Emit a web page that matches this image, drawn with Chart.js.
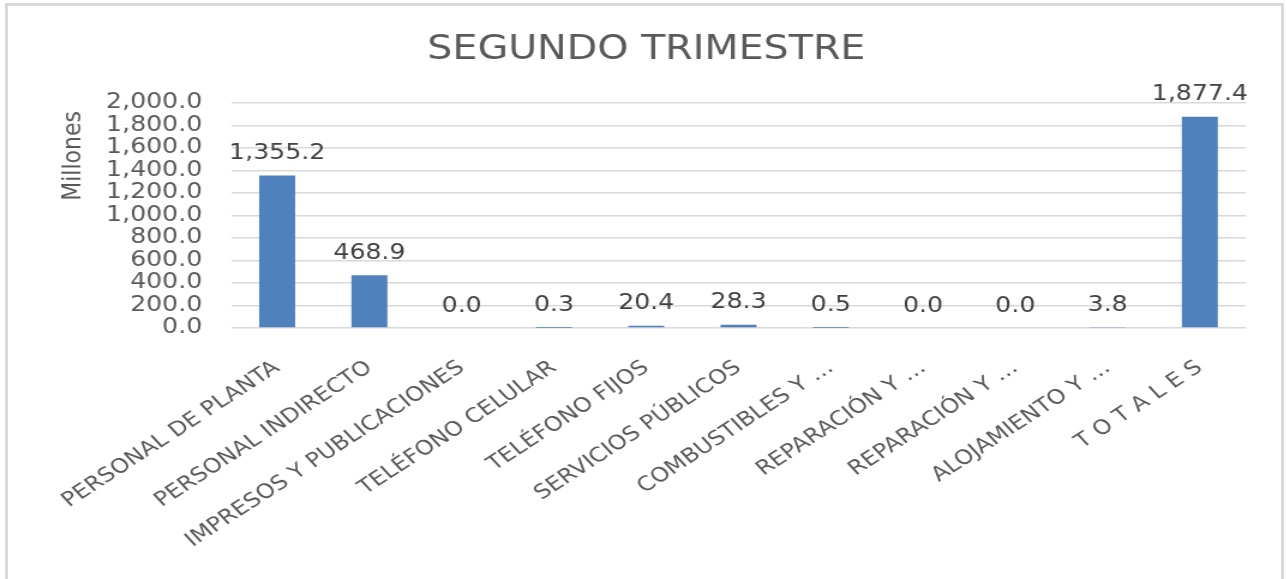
<!DOCTYPE html>
<html>
<head>
<meta charset="utf-8">
<script src="https://cdn.jsdelivr.net/npm/chart.js@4.4.1/dist/chart.umd.min.js"></script>
<style>
  html,body{margin:0;padding:0;background:#fff;overflow:hidden;}
  #frame{position:absolute;left:5px;top:3px;width:1279px;height:640px;border:3px solid #d9d9d9;box-sizing:border-box;pointer-events:none;}
  #wrap{position:absolute;left:0;top:0;width:1073px;height:579px;transform:scaleX(1.2);transform-origin:0 0;}
</style>
</head>
<body>
<div id="wrap"><canvas id="chart"></canvas></div>
<div id="frame"></div>
<script>
const TITLE = "SEGUNDO TRIMESTRE";
const Y_TITLE = "Millones";

const categories = [
  "PERSONAL DE PLANTA",
  "PERSONAL INDIRECTO",
  "IMPRESOS Y PUBLICACIONES",
  "TELÉFONO CELULAR",
  "TELÉFONO FIJOS",
  "SERVICIOS PÚBLICOS",
  "COMBUSTIBLES Y …",
  "REPARACIÓN Y …",
  "REPARACIÓN Y …",
  "ALOJAMIENTO Y …",
  "T O T A L E S"
];

const values = [1355.2, 468.9, 0.0, 0.3, 20.4, 28.3, 0.5, 0.0, 0.0, 3.8, 1877.4];

const Y_MIN = 0;
const Y_MAX = 2000;
const Y_STEP = 200;

const BAR_COLOR = "#4f81bd";
const TEXT_COLOR = "#595959";
const LABEL_COLOR = "#404040";
const GRID_COLOR = "#d9d9d9";

/* formato 1,355.2 */
function fmt(v){
  return Number(v).toLocaleString("en-US",{minimumFractionDigits:1,maximumFractionDigits:1});
}

/* etiquetas encima de las barras */
const barLabels = {
  id:"barLabels",
  afterDatasetsDraw(chart){
    const ctx = chart.ctx;
    const meta = chart.getDatasetMeta(0);
    ctx.save();
    ctx.font = "21px 'DejaVu Sans'";
    ctx.fillStyle = LABEL_COLOR;
    ctx.textAlign = "center";
    ctx.textBaseline = "alphabetic";
    meta.data.forEach((bar,i)=>{
      ctx.fillText(fmt(values[i]), bar.x, bar.y - 16.5);
    });
    ctx.restore();
  }
};

/* titulo del eje Y, un poco por encima del centro como en Excel */
const axisTitle = {
  id:"axisTitle",
  afterDraw(chart){
    const ctx = chart.ctx;
    const y = chart.scales.y;
    ctx.save();
    ctx.translate(61.5, y.getPixelForValue(1530));
    ctx.rotate(-Math.PI/2);
    ctx.font = "22px 'DejaVu Sans'";
    ctx.fillStyle = TEXT_COLOR;
    ctx.textAlign = "center";
    ctx.textBaseline = "middle";
    ctx.fillText(Y_TITLE, 0, 0);
    ctx.restore();
  }
};

Chart.defaults.font.family = "'DejaVu Sans'";
Chart.defaults.color = TEXT_COLOR;

new Chart(document.getElementById("chart"),{
  type:"bar",
  data:{
    labels:categories,
    datasets:[{
      data:values,
      backgroundColor:BAR_COLOR,
      borderWidth:0,
      barPercentage:0.39,
      categoryPercentage:1
    }]
  },
  options:{
    responsive:true,
    maintainAspectRatio:false,
    animation:false,
    layout:{padding:{left:39,right:34.7,top:0,bottom:0}},
    plugins:{
      legend:{display:false},
      tooltip:{enabled:false},
      title:{
        display:true,
        text:TITLE,
        color:TEXT_COLOR,
        font:{size:33,weight:"normal"},
        padding:{top:31,bottom:32.4}
      }
    },
    scales:{
      x:{
        grid:{display:false},
        border:{display:false},
        ticks:{
          autoSkip:false,
          minRotation:38,
          maxRotation:38,
          padding:20,
          color:TEXT_COLOR,
          font:{size:20}
        },
        afterFit(scale){ scale.height = 251; }
      },
      y:{
        min:Y_MIN,
        max:Y_MAX,
        border:{display:false},
        grid:{color:GRID_COLOR,lineWidth:1.5,drawTicks:false},
        ticks:{
          stepSize:Y_STEP,
          autoSkip:false,
          padding:24,
          color:TEXT_COLOR,
          font:{size:21},
          callback:(v)=>fmt(v)
        },
        afterFit(scale){ scale.width = 153.5; }
      }
    }
  },
  plugins:[barLabels,axisTitle]
});
</script>
</body>
</html>
